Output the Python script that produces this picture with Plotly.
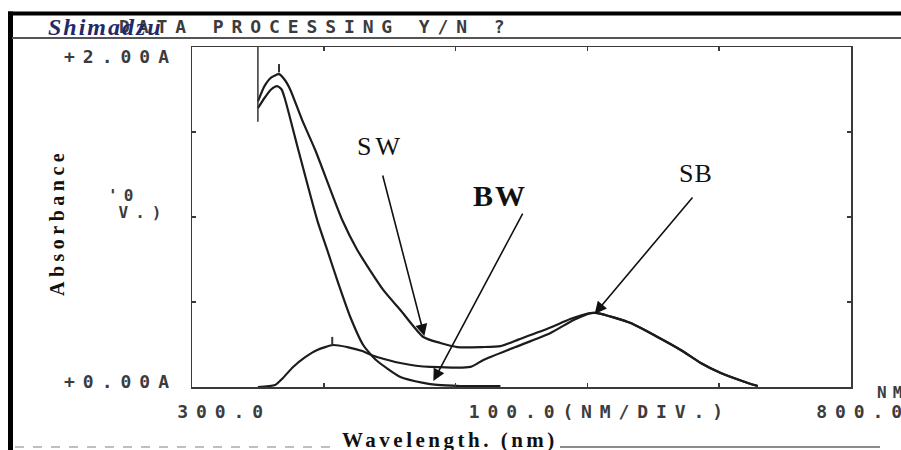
import plotly.graph_objects as go

# ---------------- data ----------------
sw_nm = [350, 355, 360, 366, 371, 374.5, 383.6, 393.5, 414, 425.4, 445.1, 458.1, 475.5,
         488.4, 501.4, 520, 534, 548, 572, 587, 602.4, 607.8, 632.8, 651.8, 670.8, 686,
         701.2, 721.7, 729.3]
sw_abs = [1.68, 1.77, 1.82, 1.84, 1.80, 1.75, 1.57, 1.394, 0.982, 0.806, 0.571, 0.453, 0.294,
          0.259, 0.235, 0.235, 0.24, 0.28, 0.35, 0.40, 0.435, 0.435, 0.376, 0.30, 0.218, 0.141,
          0.082, 0.024, 0.006]

bw_nm = [350, 355, 360, 364.6, 368, 370.7, 381.3, 395, 402.6, 411, 420.1, 429.9, 437, 441,
         458.1, 475.5, 486.2, 503.6, 534]
bw_abs = [1.64, 1.70, 1.75, 1.77, 1.75, 1.69, 1.376, 0.982, 0.806, 0.61, 0.412, 0.247, 0.18, 0.15,
          0.059, 0.024, 0.012, 0.006, 0.005]

sb_nm = [350, 363, 369, 376.7, 385.9, 395, 407.1, 417.8, 429.2, 437, 441, 458, 470, 480.9, 511.2,
         521.1, 545.4, 572, 589.5, 602.4, 607.8, 632.8, 651.8, 670.8, 686, 701.2, 721.7, 729.3]
sb_abs = [0.0, 0.012, 0.053, 0.118, 0.176, 0.218, 0.247, 0.235, 0.212, 0.185, 0.175, 0.141, 0.125,
          0.118, 0.118, 0.159, 0.235, 0.318, 0.394, 0.435, 0.435, 0.376, 0.30, 0.218, 0.141, 0.082,
          0.024, 0.006]

start_mark_nm = [350, 350]
start_mark_abs = [2.0, 1.56]
peak_mark_nm = [366, 406.4]
peak_mark_abs = [1.875, 0.27]

x_ticks = [300, 400, 500, 600, 700, 800]
y_ticks = [0, 0.5, 1.0, 1.5, 2.0]

# ---------------- geometry helpers ----------------
W, H = 901, 450
L, R, T, B = 192, 50, 47, 63
PW, PH = W - L - R, H - T - B


def pxx(x):
    return (x - L) / PW


def pxy(y):
    return (H - B - y) / PH


LINE = "#1c1c1c"
fig = go.Figure()
for xs, ys in [(sw_nm, sw_abs), (bw_nm, bw_abs), (sb_nm, sb_abs)]:
    fig.add_trace(go.Scatter(x=xs, y=ys, mode="lines",
                             line=dict(color=LINE, width=2.2, shape="spline", smoothing=0.6),
                             hoverinfo="skip", showlegend=False))
fig.add_trace(go.Scatter(x=start_mark_nm, y=start_mark_abs, mode="lines",
                         line=dict(color="#333", width=1.5), showlegend=False, hoverinfo="skip"))
fig.add_trace(go.Scatter(x=peak_mark_nm, y=peak_mark_abs, mode="markers",
                         marker=dict(symbol="line-ns-open", size=6, color="#333",
                                     line=dict(color="#333", width=2)),
                         showlegend=False, hoverinfo="skip"))

MONO = "DejaVu Sans Mono"
SERIF = "Liberation Serif"
DOT = "#3c3c3c"
anns = []


def label(text, cx, cy, size, family, ls=0.0, color="#333", weight="normal", style="normal", angle=0):
    anns.append(dict(text=text, x=pxx(cx), y=pxy(cy), xref="paper", yref="paper",
                     xanchor="center", yanchor="middle", align="center", showarrow=False,
                     textangle=angle, name=f"ls{ls}",
                     font=dict(family=family, size=size, color=color, weight=weight, style=style)))


# dot-matrix printer texts
label("DATA PROCESSING Y/N ?", 315.5, 27, 18, MONO, 7.9, DOT, weight="bold")
label("+2.00A", 120.5, 56, 18, MONO, 8, DOT, weight="bold")
label("+0.00A", 120.5, 381, 18, MONO, 8, DOT, weight="bold")
label("'0", 123, 195, 16, MONO, 6, DOT, weight="bold")
label("V.)", 143, 212, 16, MONO, 7, DOT, weight="bold")
label("300.0", 223.5, 411, 18, MONO, 7.9, DOT, weight="bold")
label("100.0(NM/DIV.)", 600, 411, 18, MONO, 7.9, DOT, weight="bold")
label("800.0", 863, 411, 18, MONO, 7.9, DOT, weight="bold")
label("NM", 892, 392, 16, MONO, 6, DOT, weight="bold")
# logo
label("Shimadzu", 105, 27, 24, SERIF, 2, "#1f2a6b", weight="bold", style="italic")
# serif labels
label("SW", 380, 146, 26, SERIF, 4, "#111")
label("BW", 500, 195, 30, SERIF, 2, "#111", weight="bold")
label("SB", 696, 173, 26, SERIF, 1, "#111")
label("Wavelength. (nm)", 450, 440, 21, SERIF, 3.5, "#111", weight="bold")
label("Absorbance", 57, 222.5, 20, SERIF, 4.5, "#111", weight="bold", angle=-90)

# arrows (tail -> tip, in data units)
for tail, tip in [((444.4, 1.253), (476.3, 0.30)),
                  ((551.5, 1.029), (483.1, 0.035)),
                  ((680.7, 1.124), (605.5, 0.43))]:
    anns.append(dict(x=tip[0], y=tip[1], ax=tail[0], ay=tail[1], xref="x", yref="y",
                     axref="x", ayref="y", text="", showarrow=True, arrowhead=2,
                     arrowsize=1.5, arrowwidth=1.6, arrowcolor="#111", standoff=0))

shapes = [
    dict(type="line", xref="paper", yref="paper", x0=pxx(8), x1=pxx(W), y0=pxy(13.5), y1=pxy(13.5),
         line=dict(color="#000", width=4)),
    dict(type="line", xref="paper", yref="paper", x0=pxx(10.5), x1=pxx(10.5), y0=pxy(11.5), y1=pxy(H),
         line=dict(color="#000", width=5)),
    dict(type="line", xref="paper", yref="paper", x0=pxx(12), x1=pxx(W), y0=pxy(38), y1=pxy(38),
         line=dict(color="#555", width=2)),
    dict(type="line", xref="paper", yref="paper", x0=pxx(560), x1=pxx(880), y0=pxy(447), y1=pxy(447),
         line=dict(color="#666", width=1.5)),
    dict(type="line", xref="paper", yref="paper", x0=pxx(15), x1=pxx(330), y0=pxy(447), y1=pxy(447),
         line=dict(color="#aaa", width=1.5, dash="dash")),
]

axis_common = dict(showline=True, linecolor="#3a3a3a", linewidth=1.5, mirror="ticks",
                   ticks="inside", ticklen=4, tickwidth=1.5, tickcolor="#3a3a3a",
                   showticklabels=False, showgrid=False, zeroline=False, fixedrange=True)

fig.update_layout(
    width=W, height=H,
    margin=dict(l=L, r=R, t=T, b=B, pad=0),
    paper_bgcolor="white", plot_bgcolor="white",
    xaxis=dict(range=[300, 800], tickvals=x_ticks, **axis_common),
    yaxis=dict(range=[0, 2], tickvals=y_ticks, **axis_common),
    annotations=anns, shapes=shapes, showlegend=False,
)

post = """
var gd = document.getElementById('{plot_id}');
function applySpacing(){
  var anns = (gd.layout && gd.layout.annotations) || [];
  var groups = gd.querySelectorAll('g.annotation');
  for (var k = 0; k < groups.length; k++) {
    var g = groups[k];
    var a = anns[parseInt(g.getAttribute('data-index'))];
    if (a && a.name && a.name.indexOf('ls') === 0) {
      var t = g.querySelector('text');
      if (t) { t.style.letterSpacing = a.name.slice(2) + 'px'; }
    }
  }
}
applySpacing();
if (gd.on) { gd.on('plotly_afterplot', applySpacing); }
"""

fig.write_html("out.html", post_script=post, config={"displayModeBar": False, "staticPlot": True})
